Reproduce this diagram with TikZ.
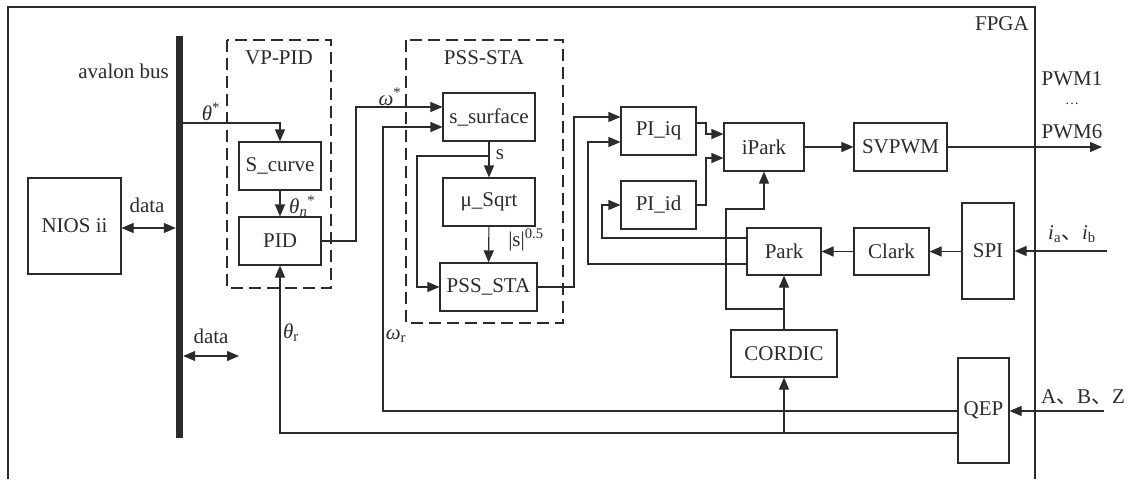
\documentclass[tikz,border=0pt]{standalone}
\usepackage{fontspec}
\setmainfont{Liberation Serif}
\newfontfamily\cjk{Noto Sans CJK SC}
\usetikzlibrary{arrows.meta,calc}
\definecolor{ink}{HTML}{2B2B2B}
\tikzset{
  blk/.style={draw=ink, line width=1.1pt, rectangle, inner sep=0pt, text=ink},
  arr/.style={draw=ink, line width=1.1pt, -{Triangle[length=12pt,width=10pt]}},
  dbl/.style={draw=ink, line width=1.1pt, {Triangle[length=12pt,width=10pt]}-{Triangle[length=12pt,width=10pt]}},
  ln/.style={draw=ink, line width=1.1pt},
  dashbox/.style={draw=ink, line width=1.1pt, dash pattern=on 12pt off 6pt},
  lbl/.style={inner sep=0pt, text=ink},
}
\begin{document}
\begin{tikzpicture}[x=1pt,y=-1pt,font=\fontsize{21}{25}\selectfont]
\useasboundingbox (0,0) rectangle (1129,479);
% FPGA frame
\draw[ln] (8,479) -- (8,7) -- (1035,7) -- (1035,479);
\node[lbl, anchor=east] (fpga) at (1029,24) {FPGA};
% bus
\node[fill=ink, draw=none, minimum width=7pt, minimum height=402pt, inner sep=0pt] (bus) at (179.5,237) {};
\node[lbl, anchor=east] (buslbl) at (169,71) {avalon bus};
% dashed groups
\draw[dashbox] (227,40) rectangle (331,288);
\draw[dashbox] (406,40) rectangle (563,323);
\node[lbl] (vpt) at (279,58) {VP-PID};
\node[lbl] (pst) at (484,58) {PSS-STA};
% blocks
\node[blk, minimum width=93pt, minimum height=96pt] (nios) at (74.5,226) {NIOS ii};
\node[blk, minimum width=82pt, minimum height=48pt] (scurve) at (280,166) {S\_curve};
\node[blk, minimum width=82pt, minimum height=48pt] (pid) at (280,241) {PID};
\node[blk, minimum width=92pt, minimum height=48pt] (ssurf) at (489,117) {s\_surface};
\node[blk, minimum width=92pt, minimum height=48pt] (msqrt) at (489,202) {μ\_Sqrt};
\node[blk, minimum width=97pt, minimum height=48pt] (pssta) at (488.5,287) {PSS\_STA};
\node[blk, minimum width=75pt, minimum height=48pt] (piiq) at (658.5,131) {PI\_iq};
\node[blk, minimum width=75pt, minimum height=48pt] (piid) at (658.5,205) {PI\_id};
\node[blk, minimum width=80pt, minimum height=48pt] (ipark) at (764,147) {iPark};
\node[blk, minimum width=93pt, minimum height=48pt] (svpwm) at (900.5,147) {SVPWM};
\node[blk, minimum width=74pt, minimum height=47pt] (park) at (784,251.5) {Park};
\node[blk, minimum width=75pt, minimum height=47pt] (clark) at (891.5,251.5) {Clark};
\node[blk, minimum width=52pt, minimum height=96pt] (spi) at (988,251) {SPI};
\node[blk, minimum width=106pt, minimum height=47pt] (cordic) at (784,353.5) {CORDIC};
\node[blk, minimum width=51pt, minimum height=105pt] (qep) at (983.5,410.5) {QEP};
% free ends
\coordinate (dataend) at (239,356);
\coordinate (pwmout) at (1102,147);
\coordinate (iin) at (1107,251);
\coordinate (qin) at (1104,411);
% connectors
\draw[dbl] (nios.east |- 0,228) -- (bus.west |- 0,228);
\draw[dbl] (bus.east |- 0,356) -- (dataend);
\draw[arr] (bus.east |- 0,123) -| (scurve.north);
\draw[arr] (scurve) -- (pid);
\draw[arr] (pid.east) -- (356,241) |- (ssurf.west |- 0,107);
\draw[arr] (qep.west |- 0,433) -| (pid.south);
\draw[arr] (qep.west |- 0,411) -| (383,127) -- (ssurf.west |- 0,127);
\draw[arr] (ssurf) -- (msqrt);
\draw[arr] (ssurf.south |- 0,156) -- (417,156) |- (pssta.west);
\draw[arr] (msqrt) -- (pssta);
\draw[arr] (pssta.east) -- (574,287) |- (piiq.west |- 0,117);
\draw[arr] (park.west |- 0,264) -| (588,142) -- (piiq.west |- 0,142);
\draw[arr] (park.west |- 0,238) -| (602,205) -- (piid.west);
\draw[arr] (piiq.east |- 0,123) -- (706,123) |- (ipark.west |- 0,134);
\draw[arr] (piid.east) -- (706,205) |- (ipark.west |- 0,158);
\draw[arr] (ipark) -- (svpwm);
\draw[arr] (svpwm.east) -- (pwmout);
\draw[arr] (clark) -- (park);
\draw[arr] (spi.west |- clark) -- (clark);
\draw[arr] (iin) -- (spi.east |- iin);
\draw[arr] (cordic) -- (park);
\draw[arr] (cordic.north |- 0,309) -- (726,309) |- (ipark.south |- 0,209) -- (ipark.south);
\draw[arr] (cordic.south |- 0,433) -- (cordic.south);
\draw[arr] (qin) -- (qep.east |- qin);
% labels
\node[lbl] (d1) at (147,205) {data};
\node[lbl] (d2) at (211,336) {data};
\node[lbl] (th) at (211,112) {\textit{θ}\textsuperscript{*}};
\node[lbl, anchor=west] (thn) at (289,206) {\textit{θ}\textsubscript{\textit{n}}\textsuperscript{*}};
\node[lbl] (thr) at (291,333) {\textit{θ}\textsubscript{r}};
\node[lbl] (om) at (390,97) {\textit{ω}\textsuperscript{*}};
\node[lbl] (omr) at (396,336) {\textit{ω}\textsubscript{r}};
\node[lbl] (sl) at (500,155) {s};
\node[lbl] (sq) at (526,240) {|s|\textsuperscript{0.5}};
\node[lbl] (p1) at (1072,79) {PWM1};
\node[lbl, font=\fontsize{14}{16}\selectfont] (pd) at (1072,104) {…};
\node[lbl] (p6) at (1072,132) {PWM6};
\node[lbl] (iab) at (1072,234) {\textit{i}\textsubscript{a}{\cjk 、}\textit{i}\textsubscript{b}};
\node[lbl] (abz) at (1083,397) {A{\cjk 、}B{\cjk 、}Z};
\end{tikzpicture}
\end{document}
